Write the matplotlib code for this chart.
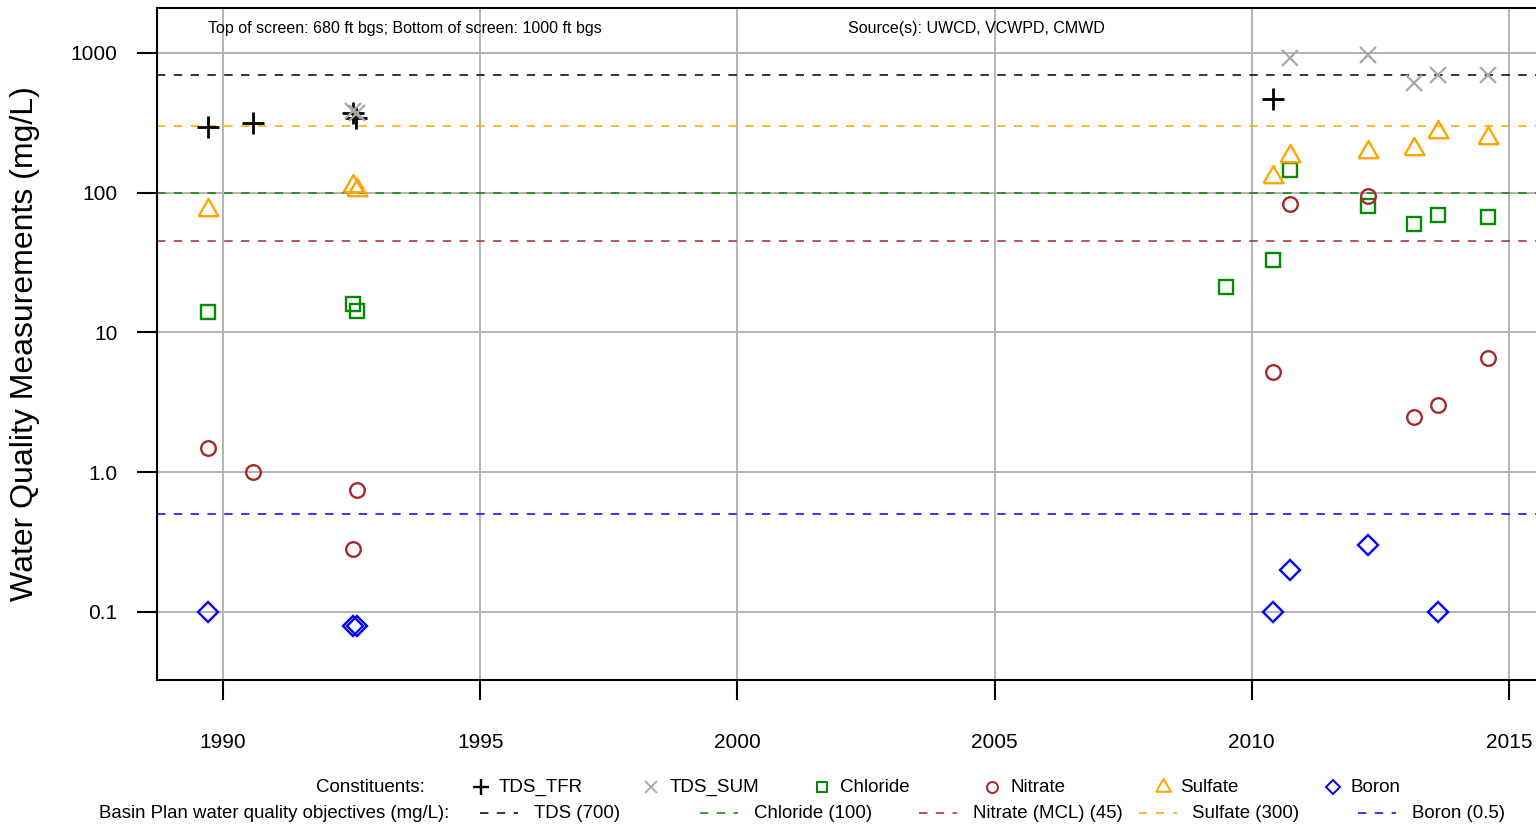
import matplotlib.pyplot as plt
import numpy as np
from matplotlib.lines import Line2D

plt.rcParams['font.family'] = ['Liberation Sans', 'DejaVu Sans']

# sample dates (decimal year) and measurements, mg/L
tfr_year = [1989.71, 1990.58, 1992.53, 1992.58, 2010.41]
tfr_val = [295, 316, 375, 345, 469]

sum_year = [1992.53, 1992.61, 2010.74, 2012.26, 2013.15, 2013.62, 2014.59]
sum_val = [385, 370, 921, 967, 610, 697, 697]

cl_year = [1989.71, 1992.53, 1992.61, 2009.50, 2010.41, 2010.74, 2012.26, 2013.15, 2013.62, 2014.59]
cl_val = [14.0, 16.0, 14.3, 21.2, 33.0, 146, 80.4, 59.7, 69.4, 67.1]

no3_year = [1989.71, 1990.58, 1992.61, 1992.53, 2010.41, 2010.74, 2012.26, 2013.15, 2013.62, 2014.59]
no3_val = [1.49, 1.0, 0.746, 0.282, 5.21, 83.2, 94.9, 2.48, 3.03, 6.58]

so4_year = [1989.71, 1992.53, 1992.61, 2010.41, 2010.74, 2012.26, 2013.15, 2013.62, 2014.59]
so4_val = [75, 112, 105, 130, 183, 196, 206, 272, 247]

b_year = [1989.71, 1992.53, 1992.61, 2010.41, 2010.74, 2012.26, 2013.62]
b_val = [0.1, 0.0794, 0.0794, 0.1, 0.2, 0.301, 0.1]

# Basin Plan objectives
obj_names = ['TDS (700)', 'Chloride (100)', 'Nitrate (MCL) (45)', 'Sulfate (300)', 'Boron (0.5)']
obj_vals = [700, 100, 45, 300, 0.5]
obj_cols = ['black', '#008B00', '#A52A2A', '#FFA500', '#0000FF']

tri = [(-1, -0.577), (1, -0.577), (0, 1.155), (-1, -0.577)]

series = [
    ('TDS_TFR', tfr_year, tfr_val, dict(marker='+', ms=16, mew=2.0), 'black'),
    ('TDS_SUM', sum_year, sum_val, dict(marker='x', ms=11.5, mew=1.6), '#A9A9A9'),
    ('Chloride', cl_year, cl_val, dict(marker='s', ms=10, mew=1.7, mfc='none'), '#008B00'),
    ('Nitrate', no3_year, no3_val, dict(marker='o', ms=10.5, mew=1.7, mfc='none'), '#A52A2A'),
    ('Sulfate', so4_year, so4_val, dict(marker=tri, ms=16.5, mew=1.7, mfc='none'), '#FFA500'),
    ('Boron', b_year, b_val, dict(marker='D', ms=10, mew=1.7, mfc='none'), '#0000FF'),
]

W, H = 1536, 825
fig = plt.figure(figsize=(15.36, 8.25), dpi=100)
ax = fig.add_axes([157 / W, 1 - 680 / H, (1545 - 157) / W, 672 / H])
ax.set_yscale('log')
ax.set_xlim(1988.717, 1988.717 + (1545 - 157) / 51.44)
ax.set_ylim(10 ** -1.4866, 10 ** 3.322)

for yr in range(1990, 2016, 5):
    ax.axvline(yr, color='#B3B3B3', lw=1.4, zorder=0)
for v in [0.1, 1, 10, 100, 1000]:
    ax.axhline(v, color='#B3B3B3', lw=1.4, zorder=0)

for v, c in zip(obj_vals, obj_cols):
    ax.axhline(v, color=c, lw=1.1, ls=(0, (5.5, 5.5)), zorder=1)

for name, xs, ys, st, c in series:
    ax.plot(xs, ys, ls='none', color=c, mec=c, zorder=3, **st)

ax.set_yticks([0.1, 1, 10, 100, 1000])
ax.set_yticklabels(['0.1', '1.0', '10', '100', '1000'])
ax.minorticks_off()
ax.set_xticks(range(1990, 2016, 5))
ax.tick_params(axis='x', length=14.4, width=1.5, pad=24, labelsize=15)
ax.tick_params(axis='y', length=14.4, width=1.5, pad=14, labelsize=15)
for s in ax.spines.values():
    s.set_linewidth(1.5)
ax.set_ylabel('Water Quality Measurements (mg/L)', fontsize=23, labelpad=22)

fig.text(208 / W, 1 - 28 / H, 'Top of screen: 680 ft bgs; Bottom of screen: 1000 ft bgs',
         fontsize=11.5, va='center', ha='left')
fig.text(848 / W, 1 - 28 / H, 'Source(s): UWCD, VCWPD, CMWD',
         fontsize=11.5, va='center', ha='left')

# legend rows below the plot
r1, r2 = 1 - 787 / H, 1 - 813 / H
fig.text(425 / W, r1, 'Constituents:', fontsize=13.5, ha='right', va='center')
for i, (name, xs, ys, st, c) in enumerate(series):
    x0 = 481 + i * 170.4
    kw = dict(st)
    kw['ms'] = kw['ms'] * 0.75
    kw['mew'] = kw['mew'] * 0.85
    fig.add_artist(Line2D([x0 / W], [r1], ls='none', color=c, mec=c,
                          transform=fig.transFigure, **kw))
    fig.text((x0 + 18) / W, r1, name, fontsize=13.5, ha='left', va='center')

fig.text(449 / W, r2, 'Basin Plan water quality objectives (mg/L):', fontsize=13.4,
         ha='right', va='center')
for i, (name, c) in enumerate(zip(obj_names, obj_cols)):
    x0 = 480 + i * 219.5
    fig.add_artist(Line2D([x0 / W, (x0 + 38) / W], [r2] * 2, color=c, lw=1.1,
                          ls=(0, (5.5, 5.5)), transform=fig.transFigure))
    fig.text((x0 + 54) / W, r2, name, fontsize=13.4, ha='left', va='center')

fig.savefig('out.png', dpi=100)
